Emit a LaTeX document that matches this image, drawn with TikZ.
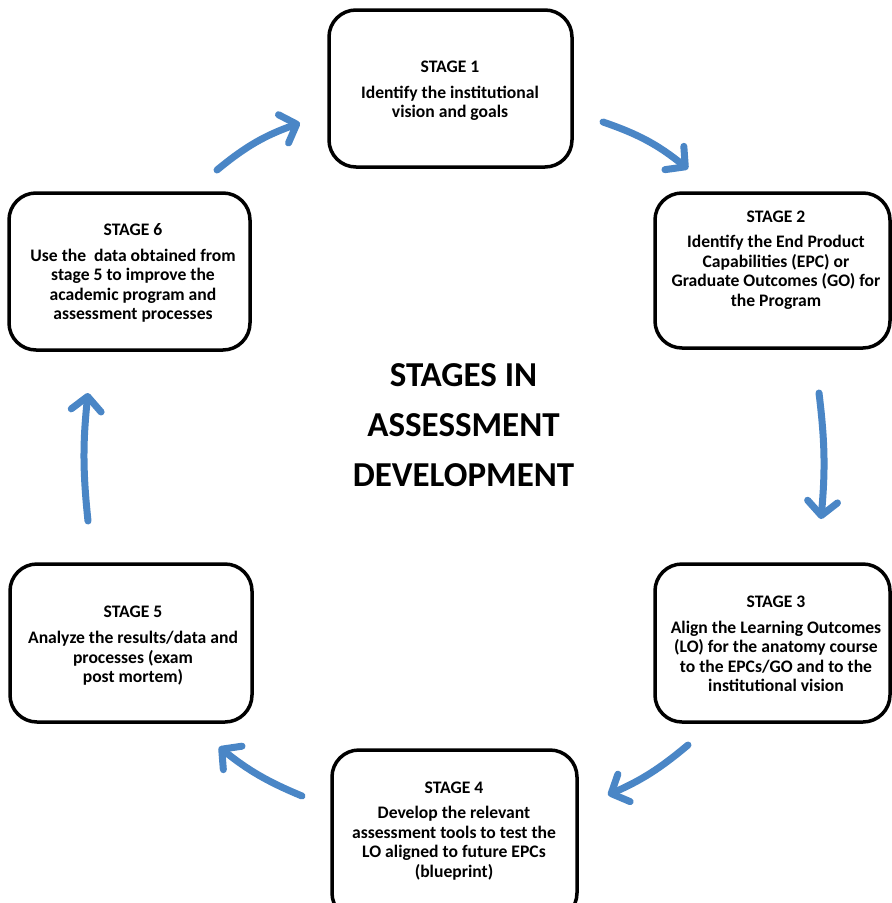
\documentclass[tikz,border=0pt]{standalone}
\usepackage{fontspec}
\setmainfont{Carlito}
\usetikzlibrary{arrows.meta}
\definecolor{arrowblue}{RGB}{74,134,198}
\tikzset{
  stagebox/.style={draw=black, line width=3.5pt, rounded corners=27pt, fill=white, inner sep=0pt},
  stagetext/.style={align=center, font=\fontsize{17.6}{19.6}\selectfont\bfseries, inner sep=0pt},
  titletext/.style={align=center, font=\fontsize{35}{50}\selectfont\bfseries, inner sep=0pt},
  flow/.style={draw=arrowblue, line width=7pt, line cap=round,
    -{Straight Barb[length=14pt,width=30pt,round]}}
}
\begin{document}
\begin{tikzpicture}[x=1pt,y=-1pt]
\clip (0,0) rectangle (892,903);
\fill[white] (0,0) rectangle (892,903);
% boxes
\node[stagebox, minimum width=243pt, minimum height=157pt] (b1) at (450.5,88.5) {};
\node[stagebox, minimum width=235pt, minimum height=155pt] (b2) at (772.5,270.5) {};
\node[stagebox, minimum width=235pt, minimum height=158pt] (b3) at (772.5,643) {};
\node[stagebox, minimum width=245pt, minimum height=170pt] (b4) at (454.5,835) {};
\node[stagebox, minimum width=242pt, minimum height=158pt] (b5) at (131,643) {};
\node[stagebox, minimum width=241pt, minimum height=157pt] (b6) at (129.5,271.5) {};
% texts
\node[stagetext] (t1) at (450,91) {STAGE 1\\[6pt]Identify the institutional\\vision and goals};
\node[stagetext] (t2) at (776,260) {STAGE 2\\[6pt]Identify the End Product\\Capabilities (EPC) or\\Graduate Outcomes (GO) for\\the Program};
\node[stagetext] (t3) at (776,644) {STAGE 3\\[6pt]Align the Learning Outcomes\\(LO) for the anatomy course\\to the EPCs/GO and to the\\institutional vision};
\node[stagetext] (t4) at (454,831) {STAGE 4\\[6pt]Develop the relevant\\assessment tools to test the\\LO aligned to future EPCs\\(blueprint)};
\node[stagetext] (t5) at (133,646) {STAGE 5\\[6pt]Analyze the results/data and\\processes (exam\\post mortem)};
\node[stagetext] (t6) at (133,273) {STAGE 6\\[6pt]Use the\ \ data obtained from\\stage 5 to improve the\\academic program and\\assessment processes};
\node[titletext] (title) at (463.5,425) {STAGES IN\\ASSESSMENT\\DEVELOPMENT};
% arrow ends
\coordinate (a1s) at (217,170); \coordinate (a1e) at (300,123);
\coordinate (a2s) at (603,122); \coordinate (a2e) at (688,169);
\coordinate (a3s) at (819,393); \coordinate (a3e) at (821,519);
\coordinate (a4s) at (688,745); \coordinate (a4e) at (608,795);
\coordinate (a5s) at (302,796); \coordinate (a5e) at (219,747);
\coordinate (a6s) at (88,521);  \coordinate (a6e) at (88,393);
\draw[flow] (a1s) to[bend left=10] (a1e);
\draw[flow] (a2s) to[bend left=10] (a2e);
\draw[flow] (a3s) to[bend left=6] (a3e);
\draw[flow] (a4s) to[bend left=8] (a4e);
\draw[flow] (a5s) to[bend left=8] (a5e);
\draw[flow] (a6s) to[bend left=6] (a6e);
\end{tikzpicture}
\end{document}
